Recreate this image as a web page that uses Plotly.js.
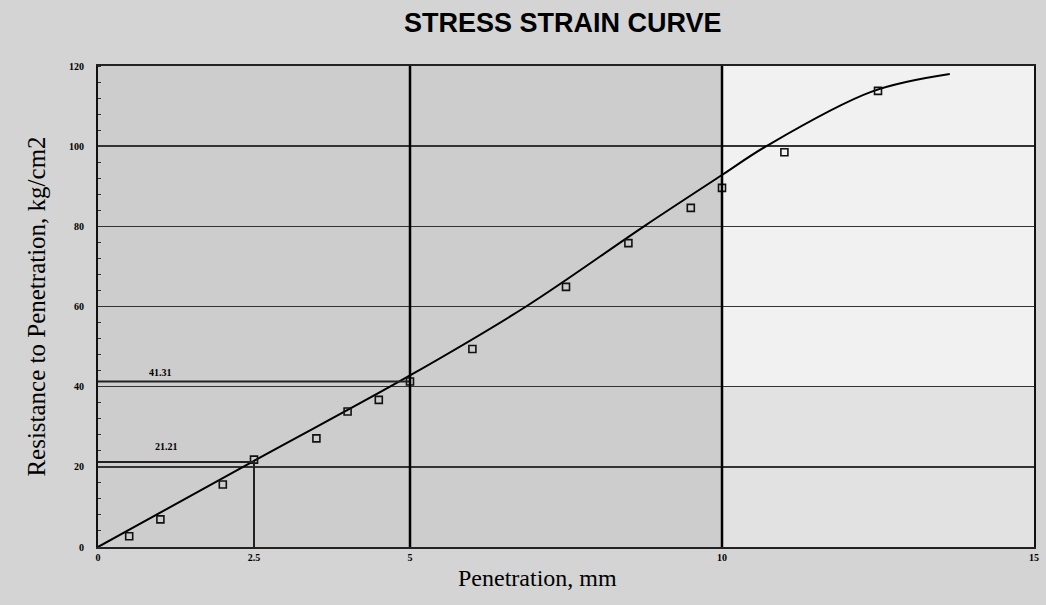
<!DOCTYPE html>
<html>
<head>
<meta charset="utf-8">
<script src="https://cdn.plot.ly/plotly-3.0.1.min.js"></script>
<style>
html,body{margin:0;padding:0;background:#d4d4d4;}
#chart{width:1046px;height:605px;}
</style>
</head>
<body>
<div id="chart"></div>
<script>
// Measured test points
const penetration = [0.5, 1, 2, 2.5, 3.5, 4, 4.5, 5, 6, 7.5, 8.5, 9.5, 10, 11, 12.5];
const resistance  = [2.7, 6.9, 15.6, 21.8, 27.1, 33.8, 36.7, 41.3, 49.4, 64.9, 75.8, 84.6, 89.6, 98.5, 113.8];
// Fitted curve
const curveX = [0, 2.5, 5, 6.86, 8.75, 10, 10.71, 12.4, 13.65];
const curveY = [0, 21.5, 42.8, 60, 80, 92.8, 100, 113.6, 118];
// Reference readings
const readX = [2.5, 5];
const readY = [21.21, 41.31];
const readLabels = ["21.21", "41.31"];
// Axis ticks
const xTicks = [0, 2.5, 5, 10, 15];
const xTickText = ["0", "2.5", "5", "10", "15"];
const yTicks = [0, 20, 40, 60, 80, 100, 120];

const traces = [
  {x: curveX, y: curveY, type: 'scatter', mode: 'lines',
   line: {color: '#000', width: 2, shape: 'spline', smoothing: 1}, hoverinfo: 'skip'},
  {x: penetration, y: resistance, type: 'scatter', mode: 'markers',
   marker: {symbol: 'square-open', size: 7, color: '#111', line: {width: 1.6, color: '#111'}}},
  // reading lines
  {x: [0, readX[1]], y: [readY[1], readY[1]], type: 'scatter', mode: 'lines',
   line: {color: '#222', width: 2}, hoverinfo: 'skip'},
  {x: [0, readX[0], readX[0]], y: [readY[0], readY[0], 0], type: 'scatter', mode: 'lines',
   line: {color: '#222', width: 2}, hoverinfo: 'skip'}
];

const serif = 'Liberation Serif, Times New Roman, serif';
const layout = {
  width: 1046, height: 605,
  margin: {l: 98, r: 12, t: 66, b: 58},
  paper_bgcolor: '#d4d4d4',
  plot_bgcolor: '#cdcdcd',
  showlegend: false,
  title: {text: 'STRESS STRAIN CURVE', x: 0.538, xanchor: 'center', y: 0.963, yanchor: 'middle',
          font: {family: 'Liberation Sans, Arial, sans-serif', size: 27, color: '#000', weight: 'bold'}},
  xaxis: {
    range: [0, 15], tickvals: xTicks, ticktext: xTickText,
    showgrid: false, zeroline: false, showline: true, mirror: true, linecolor: '#222', linewidth: 2,
    ticks: '', tickfont: {family: serif, size: 10, color: '#000', weight: 'bold'}
  },
  yaxis: {
    range: [0, 120], tickvals: yTicks,
    showgrid: true, gridcolor: '#333', gridwidth: 1.5, zeroline: false,
    showline: true, mirror: true, linecolor: '#111', linewidth: 2,
    ticks: '', ticklabelstandoff: 10, tickfont: {family: serif, size: 10, color: '#000', weight: 'bold'},
    minor: {dtick: 4, ticks: 'inside', ticklen: 3, tickcolor: '#333', showgrid: false},
    title: {text: 'Resistance to Penetration, kg/cm2', font: {family: serif, size: 25, color: '#000'}, standoff: 16}
  },
  shapes: [
    {type: 'rect', xref: 'x', yref: 'y', x0: 10, x1: 15, y0: 40, y1: 120, fillcolor: '#f1f1f1', line: {width: 0}, layer: 'below'},
    {type: 'rect', xref: 'x', yref: 'y', x0: 10, x1: 15, y0: 0, y1: 40, fillcolor: '#e2e2e2', line: {width: 0}, layer: 'below'},
    {type: 'line', xref: 'x', yref: 'y', x0: 5, x1: 5, y0: 0, y1: 120, line: {color: '#000', width: 2.5}},
    {type: 'line', xref: 'x', yref: 'y', x0: 10, x1: 10, y0: 0, y1: 120, line: {color: '#000', width: 2.5}}
  ],
  annotations: [
    {x: 1.0, y: readY[1], xref: 'x', yref: 'y', text: readLabels[1], showarrow: false, yanchor: 'bottom', yshift: 1,
     font: {family: serif, size: 10, color: '#000', weight: 'bold'}},
    {x: 1.1, y: readY[0], xref: 'x', yref: 'y', text: readLabels[0], showarrow: false, yanchor: 'bottom', yshift: 8,
     font: {family: serif, size: 10, color: '#000', weight: 'bold'}},
    {x: 0.47, y: -0.0645, xref: 'paper', yref: 'paper', text: 'Penetration, mm', showarrow: false,
     xanchor: 'center', yanchor: 'middle', font: {family: serif, size: 24, color: '#000'}}
  ]
};

Plotly.newPlot('chart', traces, layout, {displayModeBar: false, staticPlot: true});
</script>
</body>
</html>
